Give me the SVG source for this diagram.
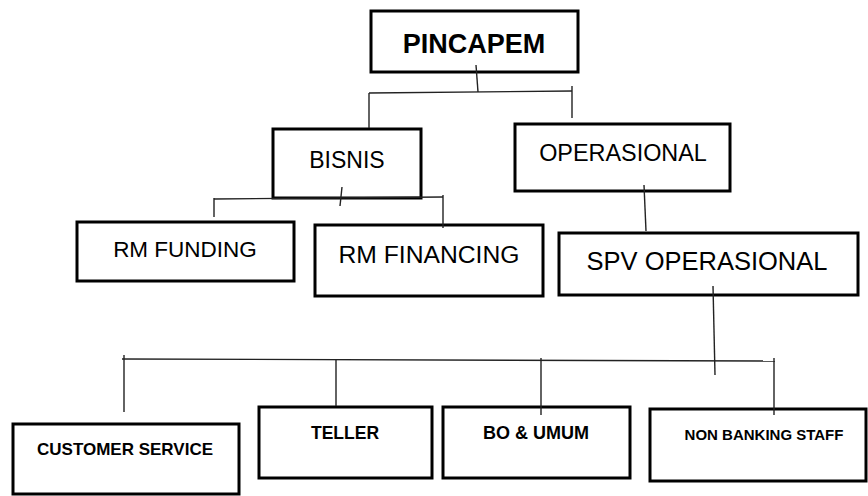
<svg xmlns="http://www.w3.org/2000/svg" width="868" height="496" viewBox="0 0 868 496">
<style>
.box{fill:#fff;stroke:#000;stroke-width:3}
.ln{stroke:#222;stroke-width:1.4;fill:none}
.t{font-family:"Liberation Sans",Arial,sans-serif;fill:#000;text-anchor:middle}
.b{font-weight:bold}
</style>
<rect width="868" height="496" fill="#fff"/>
<g id="pincapem">
<rect class="box" x="371" y="11" width="207" height="61"/>
<text class="t b" x="474" y="53" font-size="27">PINCAPEM</text>
</g>
<g id="bisnis">
<rect class="box" x="273" y="129" width="148" height="69"/>
<text class="t" x="347" y="168" font-size="23">BISNIS</text>
</g>
<g id="operasional">
<rect class="box" x="515" y="124" width="215" height="67"/>
<text class="t" x="623" y="161" font-size="23.4">OPERASIONAL</text>
</g>
<g id="rm-funding">
<rect class="box" x="77" y="222" width="217" height="59"/>
<text class="t" x="185" y="257" font-size="22.5">RM FUNDING</text>
</g>
<g id="rm-financing">
<rect class="box" x="315" y="225" width="228" height="71"/>
<text class="t" x="429" y="263" font-size="24.7">RM FINANCING</text>
</g>
<g id="spv-operasional">
<rect class="box" x="559" y="233" width="299" height="62"/>
<text class="t" x="707" y="270" font-size="25.5">SPV OPERASIONAL</text>
</g>
<g id="customer-service">
<rect class="box" x="13" y="424" width="226" height="70"/>
<text class="t b" x="125" y="455" font-size="17">CUSTOMER SERVICE</text>
</g>
<g id="teller">
<rect class="box" x="259" y="407" width="173" height="71"/>
<text class="t b" x="345" y="439" font-size="17.5">TELLER</text>
</g>
<g id="bo-umum">
<rect class="box" x="443" y="407" width="187" height="71"/>
<text class="t b" x="536" y="439" font-size="18">BO &amp; UMUM</text>
</g>
<g id="non-banking-staff">
<rect class="box" x="650" y="409" width="216" height="72"/>
<text class="t b" x="764" y="440" font-size="15">NON BANKING STAFF</text>
</g>
<g id="connectors">
<line class="ln" x1="476" y1="65" x2="478" y2="92"/>
<line class="ln" x1="369" y1="93" x2="572" y2="91"/>
<line class="ln" x1="369" y1="93" x2="369" y2="128"/>
<line class="ln" x1="572" y1="86" x2="572" y2="118"/>
<line class="ln" x1="214" y1="199" x2="443" y2="197"/>
<line class="ln" x1="214" y1="198" x2="214" y2="217"/>
<line class="ln" x1="443" y1="195" x2="443" y2="228"/>
<line class="ln" x1="342" y1="187" x2="340" y2="206"/>
<line class="ln" x1="644" y1="185" x2="646" y2="231"/>
<line class="ln" x1="713" y1="286" x2="715" y2="375"/>
<line class="ln" x1="122" y1="359" x2="775" y2="361"/>
<line class="ln" x1="124" y1="355" x2="124" y2="412"/>
<line class="ln" x1="336" y1="360" x2="336" y2="406"/>
<line class="ln" x1="541" y1="358" x2="541" y2="415"/>
<line class="ln" x1="774" y1="358" x2="774" y2="415"/>
</g>
</svg>
